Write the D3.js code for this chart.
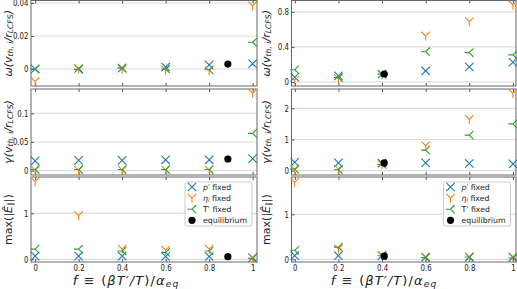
<!DOCTYPE html>
<html><head><meta charset="utf-8">
<script src="https://cdn.jsdelivr.net/npm/d3@7/dist/d3.min.js"></script>
<style>body{margin:0;background:#fff}svg{display:block;font-family:"DejaVu Sans",sans-serif}</style>
</head><body><svg id="c" width="517" height="289"></svg>
<script>
// ---- data ----
const fValues = [0, 0.2, 0.4, 0.6, 0.8, 1];
const xTickLabels = ["0", "0.2", "0.4", "0.6", "0.8", "1"];
const seriesNames = ["p′ fixed", "ηi fixed", "T' fixed", "equilibrium"];

// left column
const omegaL_p   = [0, 0.0003, 0.0005, 0.0012, 0.0025, 0.0032];
const omegaL_eta = [-0.0077, 0.0, -0.0003, -0.0005, -0.001, 0.0382];
const omegaL_T   = [0, -0.0002, 0.0005, 0.0, -0.0005, 0.0162];
const gammaL_p   = [0.017, 0.018, 0.018, 0.019, 0.019, 0.021];
const gammaL_eta = [0.0005, 0.0005, 0.001, 0.001, 0.001, 0.135];
const gammaL_T   = [0.002, 0.002, 0.002, 0.002, 0.002, 0.065];
const EL_p       = [0.07, 0.07, 0.07, 0.06, 0.06, 0.035];
const EL_eta     = [1.69, 0.95, 0.22, 0.2, 0.22, 0.03];
const EL_T       = [0.22, 0.22, 0.18, 0.15, 0.18, 0.02];
// right column
const omegaR_p   = [0.054, 0.069, 0.09, 0.126, 0.171, 0.225];
const omegaR_eta = [0.02, 0.04, 0.08, 0.526, 0.69, 0.88];
const omegaR_T   = [0.14, 0.05, 0.09, 0.346, 0.335, 0.31];
const gammaR_p   = [0.27, 0.25, 0.24, 0.25, 0.23, 0.22];
const gammaR_eta = [0.03, 0.05, 0.2, 0.8, 1.65, 2.48];
const gammaR_T   = [0.05, 0.03, 0.2, 0.66, 1.14, 1.5];
const ER_p       = [0.08, 0.08, 0.08, 0.05, 0.05, 0.05];
const ER_eta     = [1.71, 0.23, 0.08, 0.04, 0.05, 0.04];
const ER_T       = [0.2, 0.27, 0.08, 0.04, 0.05, 0.03];
// equilibrium points [left, right]
const eqF     = [0.886, 0.41];
const eqOmega = [0.003, 0.091];
const eqGamma = [0.0204, 0.25];
const eqE     = [0.057, 0.07];

const ticksOmegaL = [0, 0.02, 0.04], ticksOmegaR = [0, 0.4, 0.8];
const ticksGammaL = [0, 0.05, 0.1], ticksGammaR = [0, 1, 2];
const ticksE = [0, 1];

// ---- layout ----
const colors = ["#1f77b4", "#ff7f0e", "#2ca02c"];
const svg = d3.select("#c");
const cols = [
  {x0: 31, x1: 257, dom: [-0.019, 1.02], ylx: 7.5, xlx: 126},
  {x0: 291.5, x1: 516, dom: [-0.015, 1.014], ylx: 266, xlx: 384}
];
const rows = [{y0: 0.5, y1: 86}, {y0: 89, y1: 175}, {y0: 177, y1: 262}];

const panels = [
  {c: 0, r: 0, dom: [-0.0103, 0.0415], ticks: ticksOmegaL, s: [omegaL_p, omegaL_eta, omegaL_T], eq: eqOmega[0], ef: eqF[0], lab: "omega"},
  {c: 1, r: 0, dom: [-0.046, 0.931], ticks: ticksOmegaR, s: [omegaR_p, omegaR_eta, omegaR_T], eq: eqOmega[1], ef: eqF[1], lab: "omega"},
  {c: 0, r: 1, dom: [-0.0075, 0.1423], ticks: ticksGammaL, s: [gammaL_p, gammaL_eta, gammaL_T], eq: eqGamma[0], ef: eqF[0], lab: "gamma"},
  {c: 1, r: 1, dom: [-0.138, 2.62], ticks: ticksGammaR, s: [gammaR_p, gammaR_eta, gammaR_T], eq: eqGamma[1], ef: eqF[1], lab: "gamma"},
  {c: 0, r: 2, dom: [-0.059, 1.789], ticks: ticksE, s: [EL_p, EL_eta, EL_T], eq: eqE[0], ef: eqF[0], lab: "E"},
  {c: 1, r: 2, dom: [-0.06, 1.829], ticks: ticksE, s: [ER_p, ER_eta, ER_T], eq: eqE[1], ef: eqF[1], lab: "E"}
];

const S = 4.2;
const markerPaths = [
  `M${-S},${-S}L${S},${S}M${-S},${S}L${S},${-S}`,           // x
  `M0,0L0,${S*1.1}M0,0L${-S},${-S}M0,0L${S},${-S}`,        // tri_down
  `M0,0L${-S*1.1},0M0,0L${S},${-S}M0,0L${S},${S}`          // tri_left
];
const TICK_FS = 9, TICK_SX = 0.78;

function subText(sel, parts, baseSize, shift) {
  const sh = (shift || 0.25) * baseSize;
  parts.forEach(p => {
    const t = sel.append("tspan").text(p.t);
    if (p.it) t.attr("font-style", "italic");
    if (p.sub) t.attr("font-size", baseSize * 0.7).attr("dy", sh);
    if (p.back) t.attr("dy", -sh);
  });
}

panels.forEach(p => {
  const col = cols[p.c], row = rows[p.r];
  const x = d3.scaleLinear().domain(col.dom).range([col.x0, col.x1]);
  const y = d3.scaleLinear().domain(p.dom).range([row.y1, row.y0]);
  const g = svg.append("g");
  // grid
  g.selectAll(".grid").data(p.ticks).join("line")
    .attr("x1", col.x0).attr("x2", col.x1)
    .attr("y1", d => y(d)).attr("y2", d => y(d))
    .attr("stroke", "#dcdcdc").attr("stroke-width", 1.2);
  // y axis ticks & labels
  const yAx = d3.axisLeft(y).tickValues(p.ticks).tickSize(-3).tickPadding(0)
    .tickFormat(d => d3.format("~g")(d));
  const ya = g.append("g").attr("transform", `translate(${col.x0},0)`).call(yAx);
  ya.select(".domain").remove();
  ya.selectAll("text").attr("font-size", TICK_FS).attr("font-family", "DejaVu Sans").attr("fill", "#222")
    .attr("x", -2.5 / TICK_SX).attr("transform", `scale(${TICK_SX},1)`);
  ya.selectAll("line").attr("stroke", "#555");
  // x ticks top and bottom (inward)
  const xAxB = d3.axisBottom(x).tickValues(fValues).tickSize(-3).tickFormat((d, i) => xTickLabels[i]).tickPadding(3);
  const xb = g.append("g").attr("transform", `translate(0,${row.y1})`).call(xAxB);
  xb.select(".domain").remove();
  xb.selectAll("line").attr("stroke", "#555");
  if (p.r === 2) xb.selectAll("text").attr("font-size", TICK_FS).attr("font-family", "DejaVu Sans").attr("fill", "#222")
    .attr("transform", `scale(${TICK_SX},1)`);
  else xb.selectAll("text").remove();
  const xAxT = d3.axisTop(x).tickValues(fValues).tickSize(-3).tickFormat("");
  const xt = g.append("g").attr("transform", `translate(0,${row.y0})`).call(xAxT);
  xt.select(".domain").remove();
  xt.selectAll("line").attr("stroke", "#555");
  // frame
  g.append("rect").attr("x", col.x0).attr("y", row.y0)
    .attr("width", col.x1 - col.x0).attr("height", row.y1 - row.y0)
    .attr("fill", "none").attr("stroke", "#666").attr("stroke-width", 1);
  // markers
  p.s.forEach((vals, si) => {
    g.selectAll(null).data(vals).join("path")
      .attr("d", markerPaths[si])
      .attr("transform", (d, i) => `translate(${x(fValues[i])},${y(d)})`)
      .attr("fill", "none").attr("stroke", colors[si]).attr("stroke-width", 1.1);
  });
  g.append("circle").attr("cx", x(p.ef)).attr("cy", y(p.eq)).attr("r", 3.6).attr("fill", "#000");
  // y label
  const ly = (row.y0 + row.y1) / 2;
  const t = g.append("text").attr("transform", `translate(${col.ylx},${ly}) rotate(-90)`)
    .attr("text-anchor", "middle").attr("dominant-baseline", "central").attr("font-size", 11).attr("fill", "#222");
  if (p.lab === "omega" || p.lab === "gamma") {
    subText(t, [
      {t: p.lab === "omega" ? "ω(" : "γ(", it: true},
      {t: "v", it: true},
      {t: "th, i", it: true, sub: true},
      {t: "/", it: true, back: true},
      {t: "r", it: true},
      {t: "LCFS", it: true, sub: true},
      {t: ")", it: true, back: true}
    ], 11, 0.2);
  } else {
    subText(t, [
      {t: "max(|"},
      {t: "Ê", it: true},
      {t: "∥", sub: true},
      {t: "|)", back: true}
    ], 11, 0.2);
  }
  // x label and legend on bottom row
  if (p.r === 2) {
    const xl = g.append("text").attr("x", col.xlx).attr("y", 284.5)
      .attr("text-anchor", "middle").attr("font-size", 13).attr("fill", "#222")
      .style("letter-spacing", "1.1px");
    subText(xl, [
      {t: "f", it: true}, {t: "\u2004≡\u2004("}, {t: "βT′/T", it: true}, {t: ")/"},
      {t: "α", it: true}, {t: "eq", it: true, sub: true}
    ], 13, 0.16);
    const lgX = col.x0 + (p.c === 0 ? 154 : 152), lgY = 182;
    const lg = g.append("g");
    lg.append("rect").attr("x", lgX).attr("y", lgY).attr("width", 67).attr("height", 44)
      .attr("rx", 2).attr("fill", "#fff").attr("fill-opacity", 0.85).attr("stroke", "#ccc");
    seriesNames.forEach((nm, i) => {
      const cy = lgY + 5 + i * 11.1;
      const mx = lgX + 7;
      if (i < 3) lg.append("path").attr("d", markerPaths[i]).attr("transform", `translate(${mx},${cy})`)
        .attr("fill", "none").attr("stroke", colors[i]).attr("stroke-width", 1.1);
      else lg.append("circle").attr("cx", mx).attr("cy", cy).attr("r", 3.6).attr("fill", "#000");
      const tt = lg.append("text").attr("x", lgX + 18).attr("y", cy).attr("dominant-baseline", "central")
        .attr("font-size", 7.8).attr("fill", "#222");
      if (i === 0) subText(tt, [{t: "p′", it: true}, {t: " fixed"}], 7.8);
      else if (i === 1) subText(tt, [{t: "η", it: true}, {t: "i", it: true, sub: true}, {t: " fixed", back: true}], 7.8);
      else tt.text(nm);
    });
  }
});
</script></body></html>
